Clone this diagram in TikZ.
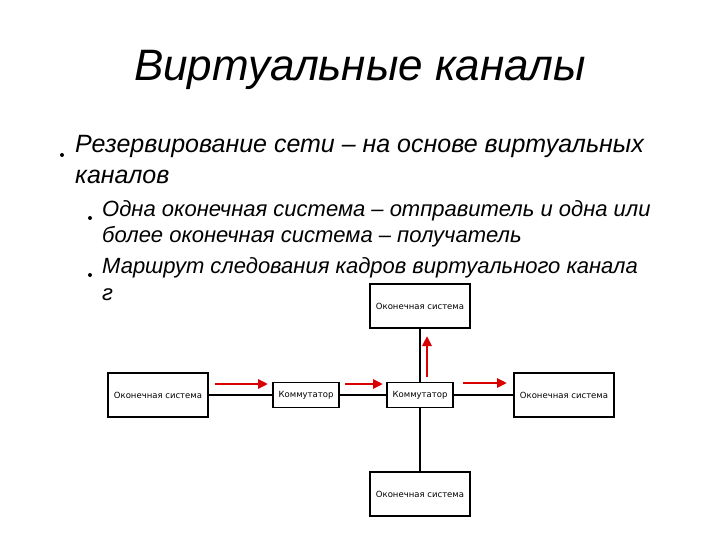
\documentclass[tikz,border=0pt]{standalone}
\usepackage{fontspec}
\setmainfont{Liberation Sans}
\newfontfamily\boxfont{DejaVu Sans}
\usetikzlibrary{positioning,arrows.meta}
\begin{document}
\begin{tikzpicture}
[x=1pt,y=-1pt,
  sysdecorate/.style={shape=rectangle,draw,line width=1.2pt,minimum width=100pt,minimum height=44pt,inner sep=0pt,font=\boxfont\fontsize{8.5}{10}\selectfont},%
  swdecorate/.style={shape=rectangle,draw,line width=1.2pt,minimum width=66pt,minimum height=25pt,inner sep=0pt,font=\boxfont\fontsize{8.5}{10}\selectfont},%
  linedecorate/.style={-,line width=2.2pt},%
  flowdecorate/.style={-{Triangle[length=10pt,width=9pt]},line width=2.5pt,color=red!85!black},%
  textdecorate/.style={anchor=base west,inner sep=0pt,font=\itshape},%
  dotdecorate/.style={shape=circle,fill,inner sep=0pt,minimum size=4pt}]
\useasboundingbox (0,0) rectangle (720,540);
%%% title and bullet text
\node (title) at (360,70) [font=\fontsize{44}{48}\selectfont\itshape] {Виртуальные каналы};
\node (d1) at (62,155) [dotdecorate] {};
\node (t1) at (75,153) [textdecorate,font=\fontsize{25}{28}\selectfont\itshape] {Резервирование сети – на основе виртуальных};
\node (t2) at (75,184) [textdecorate,font=\fontsize{25}{28}\selectfont\itshape] {каналов};
\node (d2) at (90,218) [dotdecorate] {};
\node (t3) at (102,216) [textdecorate,font=\fontsize{22}{26}\selectfont\itshape] {Одна оконечная система – отправитель и одна или};
\node (t4) at (102,243) [textdecorate,font=\fontsize{22}{26}\selectfont\itshape] {более оконечная система – получатель};
\node (d3) at (90,275) [dotdecorate] {};
\node (t5) at (102,273) [textdecorate,font=\fontsize{22}{26}\selectfont\itshape] {Маршрут следования кадров виртуального канала};
\node (t6) at (102,300) [textdecorate,font=\fontsize{22}{26}\selectfont\itshape] {г};
%%% network
% nodes or boxes
\node (src) at (158,395) [sysdecorate] {Оконечная система};
\node (sw1) at (306,395) [swdecorate] {Коммутатор};
\node (sw2) at (420,395) [swdecorate] {Коммутатор};
\node (dstr) at (564,395) [sysdecorate] {Оконечная система};
\node (dstt) at (420,306) [sysdecorate] {Оконечная система};
\node (dstb) at (420,494) [sysdecorate] {Оконечная система};
% edges or lines
\path
(src) edge[linedecorate] (sw1)
(sw1) edge[linedecorate] (sw2)
(sw2) edge[linedecorate] (dstr)
(sw2) edge[linedecorate] (dstt)
(sw2) edge[linedecorate] (dstb);
% red flow arrows
\coordinate (f1a) at (215,384);
\coordinate (f1b) at (268,384);
\coordinate (f2a) at (345,384);
\coordinate (f2b) at (383,384);
\coordinate (f3a) at (463,383);
\coordinate (f3b) at (507,383);
\coordinate (f4a) at (427,377);
\coordinate (f4b) at (427,336);
\path
(f1a) edge[flowdecorate] (f1b)
(f2a) edge[flowdecorate] (f2b)
(f3a) edge[flowdecorate] (f3b)
(f4a) edge[flowdecorate] (f4b);
\end{tikzpicture}
\end{document}
